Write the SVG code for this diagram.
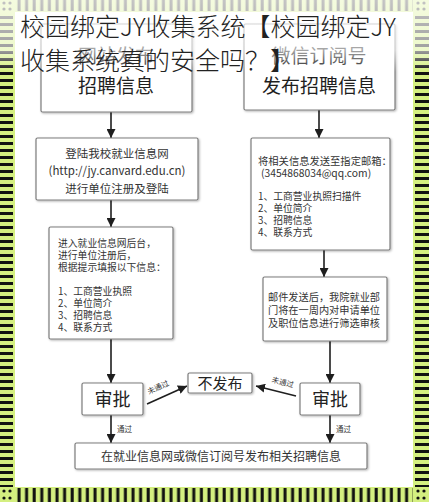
<svg xmlns="http://www.w3.org/2000/svg" width="429" height="502" viewBox="0 0 429 502">
<defs>
  <style>
    .box{fill:#ffffff;stroke:#7c7c7c;stroke-width:1.2;filter:url(#sh)}
    .t{font-family:"Noto Sans CJK SC","Noto Sans",sans-serif;fill:#333}
    .h{font-size:19px;text-anchor:middle;fill:#1e1e1e}
    .s{font-size:9.8px}
    .c{text-anchor:middle}
    .lab{font-family:"Noto Sans CJK SC",sans-serif;font-size:7.5px;fill:#333}
    .conn line{stroke:#1e1e1e;stroke-width:1.6;marker-end:url(#ah)}
    .title{font-family:"Noto Sans CJK SC","Noto Sans",sans-serif;font-size:25px;font-weight:300;fill:#222}
  </style>
  <filter id="sh" x="-10%" y="-10%" width="125%" height="125%">
    <feDropShadow dx="1" dy="1" stdDeviation="0.8" flood-color="#000" flood-opacity="0.3"/>
  </filter>
  <marker id="ah" viewBox="0 0 10 10" refX="10" refY="5" markerWidth="9" markerHeight="9" markerUnits="userSpaceOnUse" orient="auto">
    <path d="M0,0 L10,5 L0,10 z" fill="#1e1e1e"/>
  </marker>
  <pattern id="hsL" patternUnits="userSpaceOnUse" x="0" y="0" width="15" height="7">
    <rect width="15" height="7" fill="#d4ef80"/>
    <rect x="0" y="2" width="13" height="3" fill="#111"/>
  </pattern>
  <pattern id="hsR" patternUnits="userSpaceOnUse" x="413" y="0" width="16" height="7">
    <rect width="16" height="7" fill="#d4ef80"/>
    <rect x="2" y="2" width="14" height="3" fill="#111"/>
  </pattern>
  <pattern id="vsB" patternUnits="userSpaceOnUse" x="15" y="487" width="7.6" height="15">
    <rect width="7.6" height="15" fill="#d4ef80"/>
    <rect x="2.5" y="1" width="3" height="14" fill="#111"/>
  </pattern>
  <pattern id="vsT" patternUnits="userSpaceOnUse" x="15" y="0" width="7.6" height="12">
    <rect width="7.6" height="12" fill="#d4ef80"/>
    <rect x="2.5" y="0" width="3" height="11" fill="#111"/>
  </pattern>
  <linearGradient id="fade" x1="0" y1="0" x2="0" y2="1">
    <stop offset="0" stop-color="#fff" stop-opacity="0.75"/>
    <stop offset="0.7" stop-color="#fff" stop-opacity="0.6"/>
    <stop offset="1" stop-color="#fff" stop-opacity="0"/>
  </linearGradient>
</defs>

<rect width="429" height="502" fill="#ffffff"/>

<!-- border -->
<g id="border">
  <rect x="0" y="0" width="15" height="502" fill="url(#hsL)"/>
  <rect x="413" y="0" width="16" height="502" fill="url(#hsR)"/>
  <rect x="15" y="487" width="398" height="15" fill="url(#vsB)"/>
  <rect x="15" y="0" width="398" height="12" fill="url(#vsT)"/>
  <g fill="#d4ef80">
    <rect x="0" y="0" width="15" height="12"/>
    <rect x="413" y="0" width="16" height="12"/>
    <rect x="0" y="487" width="15" height="15"/>
    <rect x="413" y="487" width="16" height="15"/>
  </g>
  <g fill="#111">
    <circle cx="4" cy="3" r="1.6"/><circle cx="10" cy="3" r="1.6"/><circle cx="4" cy="9" r="1.6"/><circle cx="10" cy="9" r="1.6"/>
    <circle cx="418" cy="3" r="1.6"/><circle cx="424" cy="3" r="1.6"/><circle cx="418" cy="9" r="1.6"/><circle cx="424" cy="9" r="1.6"/>
    <circle cx="4" cy="491" r="1.6"/><circle cx="10" cy="491" r="1.6"/><circle cx="4" cy="498" r="1.6"/><circle cx="10" cy="498" r="1.6"/>
    <circle cx="418" cy="491" r="1.6"/><circle cx="424" cy="491" r="1.6"/><circle cx="418" cy="498" r="1.6"/><circle cx="424" cy="498" r="1.6"/>
  </g>
</g>

<!-- connectors -->
<g id="connectors" class="conn">
  <line x1="111" y1="112" x2="111" y2="138"/>
  <line x1="319" y1="110" x2="319" y2="138"/>
  <line x1="111" y1="200" x2="111" y2="227"/>
  <line x1="324" y1="250" x2="324" y2="277"/>
  <line x1="111" y1="339" x2="111" y2="383"/>
  <line x1="330" y1="341" x2="330" y2="383"/>
  <line x1="147" y1="404" x2="187" y2="386"/>
  <line x1="296" y1="396" x2="256" y2="386"/>
  <line x1="111" y1="415" x2="111" y2="443"/>
  <line x1="330" y1="415" x2="330" y2="443"/>
  <text class="lab" x="158" y="390" text-anchor="middle" transform="rotate(-25 158 387)">未通过</text>
  <text class="lab" x="283" y="385" text-anchor="middle" transform="rotate(15 283 382)">未通过</text>
  <text class="lab" x="117" y="432">通过</text>
  <text class="lab" x="336" y="432">通过</text>
</g>

<!-- nodes -->
<g id="n_web">
  <rect class="box" x="41" y="24" width="151" height="88" rx="1.5"/>
  <text class="t h" x="116" y="63">网站发布</text>
  <text class="t h" x="116" y="93">招聘信息</text>
</g>
<g id="n_wechat">
  <rect class="box" x="244" y="24" width="151" height="86" rx="1.5"/>
  <text class="t h" x="319" y="63">微信订阅号</text>
  <text class="t h" x="319" y="93">发布招聘信息</text>
</g>
<g id="n_login">
  <rect class="box" x="36" y="138" width="162" height="62" rx="1.5"/>
  <text class="t c" style="font-size:11.5px" x="117" y="158">登陆我校就业信息网</text>
  <text class="t c" style="font-size:11.5px" x="117" y="175">(http://jy.canvard.edu.cn)</text>
  <text class="t c" style="font-size:11.5px" x="117" y="193">进行单位注册及登陆</text>
</g>
<g id="n_fill">
  <rect class="box" x="49" y="227" width="124" height="112" rx="1.5"/>
  <text class="t s" x="58" y="247">进入就业信息网后台，</text>
  <text class="t s" x="58" y="259">进行单位注册后，</text>
  <text class="t s" x="58" y="271">根据提示填报以下信息：</text>
  <text class="t s" x="58" y="295">1、工商营业执照</text>
  <text class="t s" x="58" y="307">2、单位简介</text>
  <text class="t s" x="58" y="319">3、招聘信息</text>
  <text class="t s" x="58" y="331">4、联系方式</text>
</g>
<g id="n_email">
  <rect class="box" x="251" y="138" width="139" height="112" rx="1.5"/>
  <text class="t s" style="font-size:10.3px" x="258" y="165">将相关信息发送至指定邮箱：</text>
  <text class="t s" style="font-size:10.3px" x="261" y="177">(3454868034@qq.com)</text>
  <text class="t s" x="258" y="200">1、工商营业执照扫描件</text>
  <text class="t s" x="258" y="212">2、单位简介</text>
  <text class="t s" x="258" y="224">3、招聘信息</text>
  <text class="t s" x="258" y="236">4、联系方式</text>
</g>
<g id="n_review">
  <rect class="box" x="263" y="277" width="124" height="64" rx="1.5"/>
  <text class="t s" style="font-size:10.2px" x="268" y="301">邮件发送后，我院就业部</text>
  <text class="t s" style="font-size:10.2px" x="268" y="314">门将在一周内对申请单位</text>
  <text class="t s" style="font-size:10.2px" x="268" y="327">及职位信息进行筛选审核</text>
</g>
<g id="n_approve_l">
  <rect class="box" x="82" y="383" width="61" height="32" rx="1.5"/>
  <text class="t c" style="font-size:18px;fill:#222" x="112.5" y="406">审批</text>
</g>
<g id="n_approve_r">
  <rect class="box" x="300" y="383" width="60" height="32" rx="1.5"/>
  <text class="t c" style="font-size:18px;fill:#222" x="330" y="406">审批</text>
</g>
<g id="n_nopub">
  <rect class="box" x="188" y="373" width="64" height="20" rx="1.5"/>
  <text class="t c" style="font-size:15px;fill:#222" x="220" y="389">不发布</text>
</g>
<g id="n_publish">
  <rect class="box" x="75" y="443" width="292" height="26" rx="1.5"/>
  <text class="t c" style="font-size:12px" x="221" y="461">在就业信息网或微信订阅号发布相关招聘信息</text>
</g>

<!-- top fade overlay -->
<rect x="0" y="0" width="429" height="72" fill="url(#fade)"/>

<!-- title -->
<g id="title">
  <text class="title" x="20" y="36">校园绑定JY收集系统【校园绑定JY</text>
  <text class="title" x="20" y="70">收集系统真的安全吗？】</text>
</g>
</svg>
